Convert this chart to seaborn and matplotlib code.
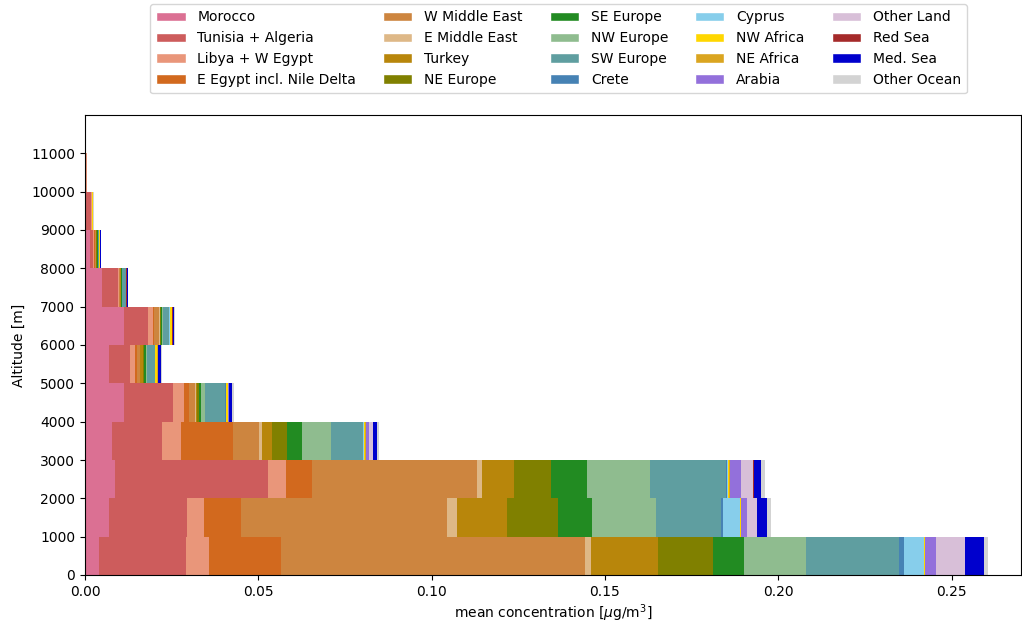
import numpy as np
import pandas as pd
import matplotlib
matplotlib.use("Agg")
import matplotlib.pyplot as plt
from matplotlib.patches import Patch
import seaborn as sns

# Altitude bins (lower edges, m)
altitudes = [0, 1000, 2000, 3000, 4000, 5000, 6000, 7000, 8000, 9000, 10000]

sources = ["Morocco", "Tunisia + Algeria", "Libya + W Egypt", "E Egypt incl. Nile Delta",
           "W Middle East", "E Middle East", "Turkey", "NE Europe", "SE Europe",
           "NW Europe", "SW Europe", "Crete", "Cyprus", "NW Africa", "NE Africa",
           "Arabia", "Other Land", "Red Sea", "Med. Sea", "Other Ocean"]

colors = ["palevioletred", "indianred", "darksalmon", "chocolate", "peru", "burlywood",
          "darkgoldenrod", "olive", "forestgreen", "darkseagreen", "cadetblue", "steelblue",
          "skyblue", "gold", "goldenrod", "mediumpurple", "thistle", "brown", "mediumblue",
          "lightgray"]

# mean concentration per source for each altitude bin (ug/m3)
morocco      = [0.0040, 0.0069, 0.0087, 0.0078, 0.0113, 0.0069, 0.0113, 0.0049, 0.0014, 0.0003, 0.0001]
tunisia      = [0.0251, 0.0225, 0.0442, 0.0144, 0.0141, 0.0061, 0.0069, 0.0046, 0.0009, 0.0015, 0.0003]
libya        = [0.0066, 0.0049, 0.0052, 0.0055, 0.0032, 0.0014, 0.0014, 0.0003, 0.0004, 0.0001, 0.0001]
e_egypt      = [0.0208, 0.0107, 0.0075, 0.0150, 0.0014, 0.0006, 0.0002, 0.0001, 0.0002, 0.0000, 0.0000]
w_mideast    = [0.0878, 0.0595, 0.0476, 0.0075, 0.0017, 0.0009, 0.0016, 0.0002, 0.0003, 0.0000, 0.0000]
e_mideast    = [0.0017, 0.0029, 0.0014, 0.0009, 0.0003, 0.0001, 0.0001, 0.0000, 0.0000, 0.0000, 0.0000]
turkey       = [0.0193, 0.0144, 0.0092, 0.0029, 0.0003, 0.0007, 0.0002, 0.0002, 0.0001, 0.0000, 0.0000]
ne_europe    = [0.0159, 0.0147, 0.0107, 0.0043, 0.0006, 0.0003, 0.0003, 0.00015, 0.0001, 0.0000, 0.0000]
se_europe    = [0.0089, 0.0098, 0.0104, 0.0043, 0.0006, 0.0006, 0.0003, 0.00015, 0.0003, 0.0000, 0.0000]
nw_europe    = [0.0179, 0.0185, 0.0182, 0.0084, 0.0012, 0.0003, 0.0003, 0.00015, 0.0001, 0.0000, 0.0000]
sw_europe    = [0.0268, 0.0188, 0.0217, 0.0092, 0.0058, 0.0023, 0.0017, 0.0010, 0.0003, 0.0000, 0.0000]
crete        = [0.0014, 0.0003, 0.0003, 0.0001, 0.00005, 0.00005, 0.00005, 0.00002, 0.0000, 0.0000, 0.0000]
cyprus       = [0.0058, 0.0049, 0.0003, 0.0001, 0.0001, 0.00005, 0.00005, 0.00002, 0.0000, 0.0000, 0.0000]
nw_africa    = [0.0003, 0.0003, 0.0003, 0.0005, 0.0006, 0.0006, 0.0006, 0.00002, 0.0001, 0.0005, 0.0000]
ne_africa    = [0.00015, 0.0002, 0.0003, 0.0003, 0.0001, 0.0001, 0.0001, 0.00002, 0.0000, 0.0000, 0.0000]
arabia       = [0.0030, 0.0017, 0.0032, 0.0006, 0.0001, 0.00005, 0.00005, 0.00002, 0.0000, 0.0000, 0.0000]
other_land   = [0.0084, 0.0029, 0.0035, 0.0012, 0.0001, 0.0001, 0.00005, 0.00005, 0.0000, 0.0000, 0.0000]
red_sea      = [0.0001, 0.00005, 0.0003, 0.0001, 0.00005, 0.00005, 0.00005, 0.0003, 0.0000, 0.0000, 0.0001]
med_sea      = [0.0054, 0.0029, 0.0020, 0.0011, 0.0009, 0.0006, 0.0003, 0.0001, 0.0003, 0.0000, 0.0000]
other_ocean  = [0.0012, 0.0009, 0.0012, 0.0006, 0.0006, 0.0003, 0.0003, 0.0001, 0.0002, 0.0002, 0.0000]

series = [morocco, tunisia, libya, e_egypt, w_mideast, e_mideast, turkey, ne_europe,
          se_europe, nw_europe, sw_europe, crete, cyprus, nw_africa, ne_africa, arabia,
          other_land, red_sea, med_sea, other_ocean]

bin_height = 1000
centers = np.array(altitudes) + bin_height / 2

vals = np.array(series)            # (n_sources, n_bins)
cum = np.cumsum(vals, axis=0)

sns.set_theme(style="ticks", rc={
    "axes.edgecolor": "black", "xtick.color": "black", "ytick.color": "black",
    "axes.labelcolor": "black", "text.color": "black",
    "font.size": 10, "axes.labelsize": 10, "xtick.labelsize": 10,
    "ytick.labelsize": 10, "legend.fontsize": 10, "axes.linewidth": 0.8,
    "xtick.major.size": 3.5, "ytick.major.size": 3.5,
    "xtick.major.width": 0.8, "ytick.major.width": 0.8,
    "xtick.major.pad": 3.5, "ytick.major.pad": 3.5,
    "axes.labelpad": 2.5,
})
plt.rcParams["font.family"] = ["DejaVu Sans"]

fig = plt.figure(figsize=(10.22, 6.22), dpi=100)
ax = fig.add_axes([85 / 1022, 1 - 575 / 622, (1021 - 85) / 1022, (575 - 115) / 622])

# Draw cumulative totals from the outermost layer inwards so each layer overlays the next
for i in range(len(sources) - 1, -1, -1):
    df = pd.DataFrame({"conc": cum[i], "alt": centers})
    sns.barplot(data=df, x="conc", y="alt", orient="h", native_scale=True, width=1.0,
                color=colors[i], saturation=1, linewidth=0, edgecolor="none",
                errorbar=None, ax=ax)

ax.set_xlim(0, 0.27)
ax.set_ylim(0, 12000)
ax.set_yticks(np.arange(0, 11001, 1000))
ax.set_xticks(np.arange(0, 0.2501, 0.05))
ax.xaxis.set_major_formatter(matplotlib.ticker.FormatStrFormatter("%.2f"))
ax.set_xlabel(r"mean concentration [$\mu$g/m$^3$]")
ax.set_ylabel("Altitude [m]", labelpad=4)

handles = [Patch(facecolor=c, label=s) for s, c in zip(sources, colors)]
ax.legend(handles=handles, ncol=5, loc="lower center", bbox_to_anchor=(0.506, 1.047),
          frameon=True, fontsize=10, borderaxespad=0, handlelength=2.1,
          handletextpad=0.85, columnspacing=1.95, borderpad=0.45)

fig.savefig("out.png", dpi=100)
